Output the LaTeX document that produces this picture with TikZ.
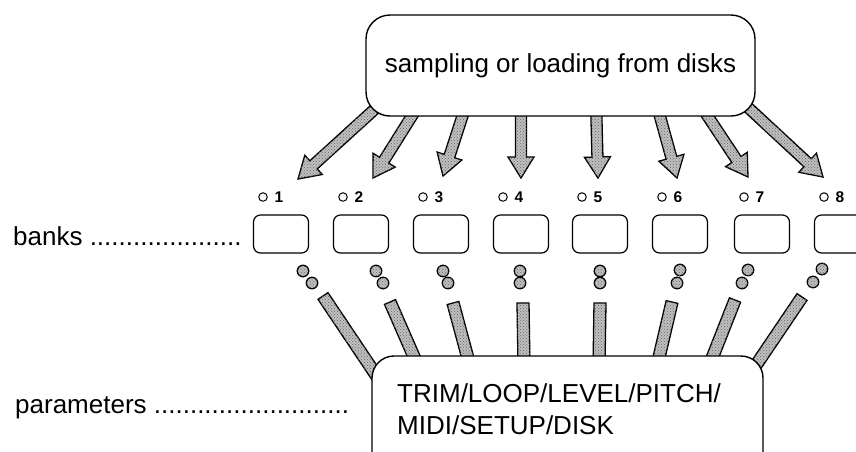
\documentclass[tikz,border=0pt]{standalone}
\usepackage{fontspec}
\setmainfont{Liberation Sans}
\usetikzlibrary{calc,patterns,backgrounds}
\def\fatarrow(#1)(#2){%
	\coordinate (hb) at ($(#2)!21pt!(#1)$);
	\draw[stipple] ($(#1)!5.5pt!90:(#2)$) -- ($(hb)!5.5pt!-90:(#1)$) -- ($(hb)!13pt!-90:(#1)$) -- (#2) -- ($(hb)!13pt!90:(#1)$) -- ($(hb)!5.5pt!90:(#1)$) -- ($(#1)!5.5pt!-90:(#2)$) -- cycle;}
\def\parambar(#1)(#2){%
	\draw[stipple] ($(#1)!6pt!90:(#2)$) -- ($(#2)!6pt!-90:(#1)$) -- ($(#2)!6pt!90:(#1)$) -- ($(#1)!6pt!-90:(#2)$) -- cycle;}

\begin{document}
\begin{tikzpicture}[x=1pt, y=-1pt,
		stipple/.style={draw=black, line width=1.3pt, fill=black!25, postaction={pattern=crosshatch dots, pattern color=black!60}},
		bigbox/.style={draw=black, line width=1.4pt, fill=white, rounded corners=24pt},
		bankbox/.style={draw=black, line width=1.2pt, fill=white, rounded corners=7pt, minimum width=55pt, minimum height=38pt},
		ledcirc/.style={draw=black, line width=1pt, circle, inner sep=0pt, minimum size=8.5pt},
		banknum/.style={inner sep=0pt, font=\fontsize{15.5}{18}\selectfont\bfseries},
		seldot/.style={stipple, circle, inner sep=0pt, minimum size=11.5pt},
		bigtext/.style={inner sep=0pt, font=\fontsize{26}{32}\selectfont}]
		%%%%% START %%%%%
		
		\useasboundingbox (0,0) rectangle (856,451);
		
		\node[bigbox, minimum width=389pt, minimum height=101pt, bigtext] (src) at (560.5,65.5) {sampling or loading from disks};
		
		\node[bankbox] (bank1) at (281,234) {};
		\node[bankbox] (bank2) at (361,234) {};
		\node[bankbox] (bank3) at (441,234) {};
		\node[bankbox] (bank4) at (521,234) {};
		\node[bankbox] (bank5) at (600,234) {};
		\node[bankbox] (bank6) at (680,234) {};
		\node[bankbox] (bank7) at (762,234) {};
		\node[bankbox] (bank8) at (842,234) {};
		
		\node[ledcirc] (led1) at (263,197) {};
		\node[banknum] (num1) at (279,197) {1};
		\node[ledcirc] (led2) at (343,197) {};
		\node[banknum] (num2) at (359,197) {2};
		\node[ledcirc] (led3) at (423,197) {};
		\node[banknum] (num3) at (439,197) {3};
		\node[ledcirc] (led4) at (503,197) {};
		\node[banknum] (num4) at (519,197) {4};
		\node[ledcirc] (led5) at (582,197) {};
		\node[banknum] (num5) at (598,197) {5};
		\node[ledcirc] (led6) at (662,197) {};
		\node[banknum] (num6) at (678,197) {6};
		\node[ledcirc] (led7) at (744,197) {};
		\node[banknum] (num7) at (760,197) {7};
		\node[ledcirc] (led8) at (824,197) {};
		\node[banknum] (num8) at (840,197) {8};
		
		% arrows from the top box, tucked under it
		\begin{scope}[on background layer]
			\coordinate (s1) at (387,98);  \coordinate (t1) at (298,179);
			\coordinate (s2) at (420,103); \coordinate (t2) at (373,178);
			\coordinate (s3) at (467,102); \coordinate (t3) at (443,176);
			\coordinate (s4) at (521,102); \coordinate (t4) at (521,178);
			\coordinate (s5) at (596,102); \coordinate (t5) at (598,178);
			\coordinate (s6) at (656,102); \coordinate (t6) at (677,178);
			\coordinate (s7) at (699,103); \coordinate (t7) at (748,177);
			\coordinate (s8) at (740,100); \coordinate (t8) at (823,177);
			\fatarrow(s1)(t1)
			\fatarrow(s2)(t2)
			\fatarrow(s3)(t3)
			\fatarrow(s4)(t4)
			\fatarrow(s5)(t5)
			\fatarrow(s6)(t6)
			\fatarrow(s7)(t7)
			\fatarrow(s8)(t8)
			
			% bars into the parameter box
			\coordinate (b1) at (323,296); \coordinate (e1) at (378,378);
			\coordinate (b2) at (390,302); \coordinate (e2) at (418,366);
			\coordinate (b3) at (453,303); \coordinate (e3) at (470,366);
			\coordinate (b4) at (523,303); \coordinate (e4) at (524,366);
			\coordinate (b5) at (600,303); \coordinate (e5) at (599,366);
			\coordinate (b6) at (672,302); \coordinate (e6) at (657,366);
			\coordinate (b7) at (735,300); \coordinate (e7) at (709,366);
			\coordinate (b8) at (802,297); \coordinate (e8) at (752,371);
			\parambar(b1)(e1)
			\parambar(b2)(e2)
			\parambar(b3)(e3)
			\parambar(b4)(e4)
			\parambar(b5)(e5)
			\parambar(b6)(e6)
			\parambar(b7)(e7)
			\parambar(b8)(e8)
		\end{scope}
		
		\node[seldot] (d1a) at (303,271) {};
		\node[seldot] (d1b) at (312,283) {};
		\node[seldot] (d2a) at (376,271) {};
		\node[seldot] (d2b) at (383,283) {};
		\node[seldot] (d3a) at (443,271) {};
		\node[seldot] (d3b) at (448,283) {};
		\node[seldot] (d4a) at (520,271) {};
		\node[seldot] (d4b) at (520,283) {};
		\node[seldot] (d5a) at (600,271) {};
		\node[seldot] (d5b) at (600,283) {};
		\node[seldot] (d6a) at (680,270) {};
		\node[seldot] (d6b) at (677,283) {};
		\node[seldot] (d7a) at (748,270) {};
		\node[seldot] (d7b) at (742,283) {};
		\node[seldot] (d8a) at (822,269) {};
		\node[seldot] (d8b) at (813,282) {};
		
		\node[bigbox, rounded corners=22pt, minimum width=391pt, minimum height=130pt] (par) at (567.5,421) {};
		\node[bigtext, anchor=west, align=left] (partxt) at (397,409) {TRIM/LOOP/LEVEL/PITCH/\\MIDI/SETUP/DISK};
		
		\node[bigtext, anchor=base west] (bankslbl) at (13,245) {banks .....................};
		\node[bigtext, anchor=base west] (paramlbl) at (15,413) {parameters ...........................};
		
		%%%%% END %%%%%
\end{tikzpicture}
\end{document}
